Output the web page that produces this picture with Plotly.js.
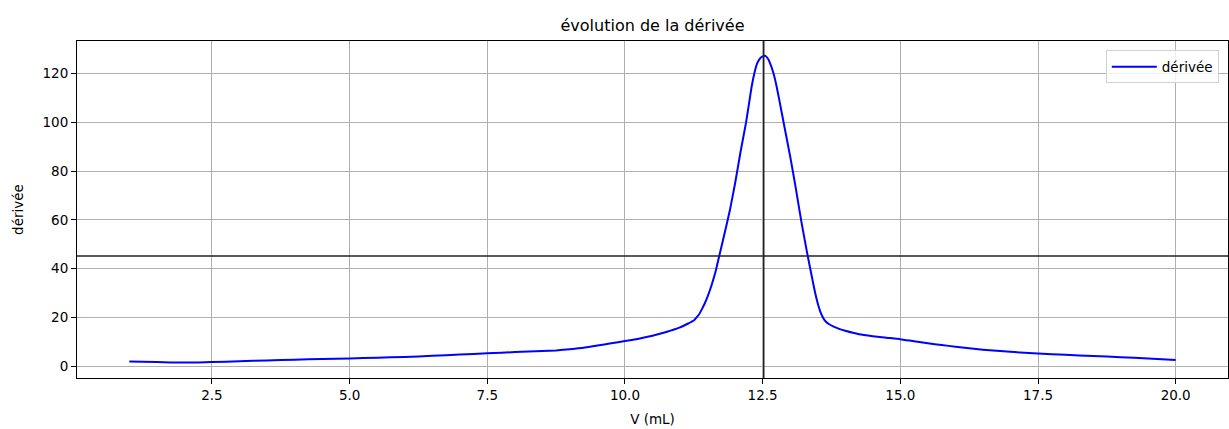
<!DOCTYPE html>
<html>
<head>
<meta charset="utf-8">
<script src="https://cdn.plot.ly/plotly-3.0.1.min.js"></script>
<style>html,body{margin:0;padding:0;background:#fff;}#chart{width:1229px;height:429px;}</style>
</head>
<body>
<div id="chart"></div>
<script>
const volumes = [1.0, 1.5, 2.0, 2.5, 3.0, 3.5, 4.0, 4.5, 5.0, 5.5, 6.0, 6.5, 7.0, 7.5, 8.0, 8.5, 8.75, 9.0, 9.25, 9.5, 9.75, 10.0, 10.25, 10.5, 10.75, 11.0, 11.15, 11.25, 11.3, 11.35, 11.4, 11.45, 11.5, 11.55, 11.6, 11.65, 11.7, 11.8, 11.9, 12.0, 12.1, 12.2, 12.3, 12.35, 12.4, 12.45, 12.5, 12.55, 12.6, 12.65, 12.7, 12.75, 12.8, 12.9, 13.0, 13.1, 13.2, 13.3, 13.4, 13.45, 13.5, 13.55, 13.6, 13.65, 13.7, 13.8, 13.9, 14.0, 14.25, 14.5, 14.75, 15.0, 15.25, 15.5, 15.75, 16.0, 16.5, 17.0, 17.5, 18.0, 18.5, 19.0, 19.5, 20.0];
const derivee = [2.1, 1.8, 1.6, 1.8, 2.2, 2.5, 2.8, 3.1, 3.3, 3.6, 3.9, 4.4, 4.9, 5.4, 5.9, 6.3, 6.6, 7.1, 7.7, 8.6, 9.5, 10.4, 11.4, 12.6, 14.1, 16.0, 17.6, 18.8, 20.1, 21.5, 23.6, 25.9, 28.6, 31.7, 35.3, 39.3, 44.1, 53.6, 63.4, 75.0, 88.0, 100.0, 114.5, 120.0, 124.0, 126.0, 126.9, 127.1, 125.8, 123.2, 119.7, 115.0, 109.3, 97.6, 86.0, 73.2, 59.7, 47.4, 36.0, 30.5, 25.9, 22.3, 19.9, 18.3, 17.4, 16.2, 15.3, 14.6, 13.2, 12.4, 11.8, 11.2, 10.3, 9.5, 8.8, 8.1, 6.9, 6.0, 5.3, 4.8, 4.3, 3.8, 3.3, 2.7];
const xTicks = [2.5, 5.0, 7.5, 10.0, 12.5, 15.0, 17.5, 20.0];
const yTicks = [0, 20, 40, 60, 80, 100, 120];
const hLineValue = 45.2;
const vLineValue = 12.52;

const font = {family: 'DejaVu Sans, sans-serif', size: 13.5, color: '#000'};

const trace = {
  x: volumes, y: derivee, type: 'scatter', mode: 'lines', name: 'dérivée',
  line: {color: '#0000ff', width: 2, shape: 'spline', smoothing: 0.4}
};

const axisCommon = {
  showline: true, linecolor: '#000', linewidth: 1, mirror: true,
  ticks: 'outside', ticklen: 5, tickwidth: 1, tickcolor: '#000',
  showgrid: true, gridcolor: '#b0b0b0', gridwidth: 1, zeroline: false,
  tickfont: font
};

const layout = {
  width: 1229, height: 429,
  paper_bgcolor: '#fff', plot_bgcolor: '#fff',
  margin: {l: 77, r: 1, t: 41, b: 51, pad: 0},
  font: font,
  title: {text: 'évolution de la dérivée', font: {family: 'DejaVu Sans, sans-serif', size: 16, color: '#000'},
          x: 0.5, xref: 'paper', y: 1 - 25/429, yref: 'container', yanchor: 'middle'},
  xaxis: Object.assign({}, axisCommon, {
    range: [0.05, 20.95], tickvals: xTicks, ticktext: xTicks.map(v => v.toFixed(1)),
    title: {text: 'V (mL)', font: font, standoff: 12}
  }),
  yaxis: Object.assign({}, axisCommon, {
    range: [-4.7, 133.2], tickvals: yTicks,
    title: {text: 'dérivée', font: font, standoff: 15}
  }),
  showlegend: true,
  legend: {x: 0.992, xanchor: 'right', y: 0.972, yanchor: 'top',
           bgcolor: 'rgba(255,255,255,0.8)', bordercolor: '#d0d0d0', borderwidth: 1,
           font: font, itemwidth: 45},
  shapes: [
    {type: 'line', xref: 'paper', x0: 0, x1: 1, yref: 'y', y0: hLineValue, y1: hLineValue,
     line: {color: '#222', width: 1.5}},
    {type: 'line', xref: 'x', x0: vLineValue, x1: vLineValue, yref: 'paper', y0: 0, y1: 1,
     line: {color: '#222', width: 1.5}}
  ]
};

Plotly.newPlot('chart', [trace], layout, {displayModeBar: false, staticPlot: true});
</script>
</body>
</html>
